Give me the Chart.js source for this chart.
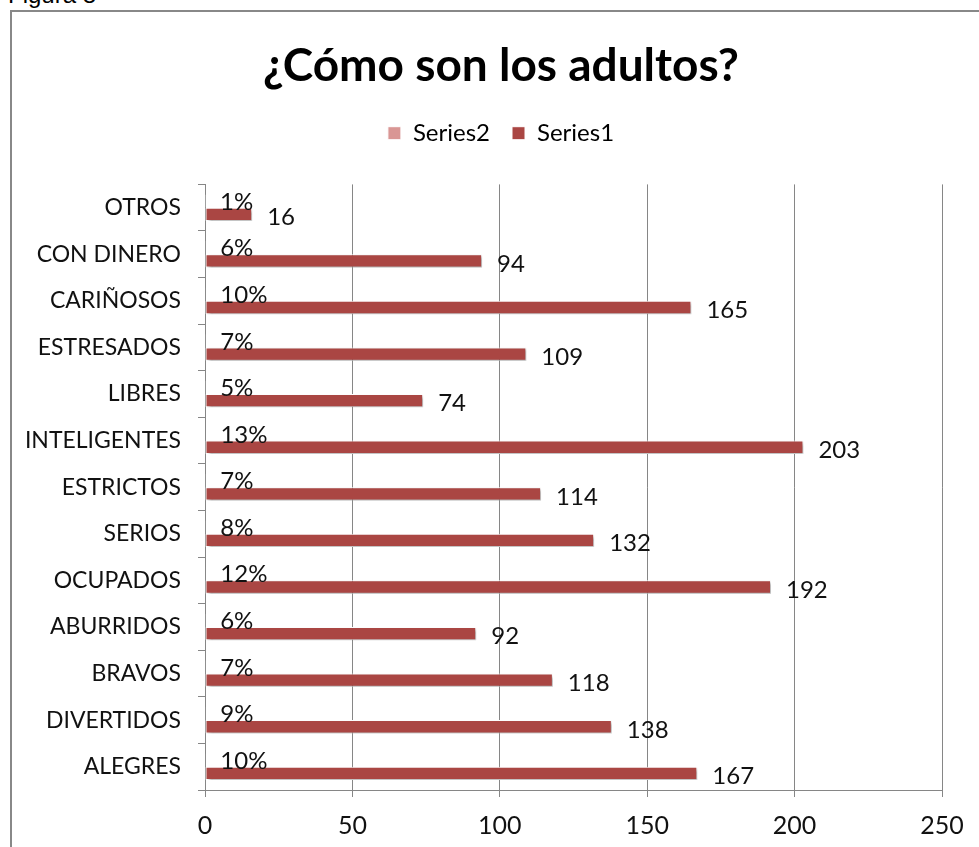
<!DOCTYPE html>
<html>
<head>
<meta charset="utf-8">
<script src="https://cdn.jsdelivr.net/npm/chart.js@4/dist/chart.umd.min.js"></script>
<style>
  html, body { margin: 0; padding: 0; background: #fff; overflow: hidden; }
  #fig { position: absolute; left: 8px; top: -17px; font-family: "Liberation Sans", Arial, sans-serif; font-size: 24px; color: #000; line-height: 24px; }
  #frame { position: absolute; left: 10px; top: 10px; width: 1000px; height: 900px; border: 2px solid #888; box-sizing: border-box; }
  #wrap { position: absolute; left: 0; top: 0; width: 979px; height: 847px; }
</style>
</head>
<body>
<div id="fig">Figura 8</div>
<div id="frame"></div>
<div id="wrap"><canvas id="c"></canvas></div>
<script>
const categories = ["OTROS", "CON DINERO", "CARIÑOSOS", "ESTRESADOS", "LIBRES", "INTELIGENTES", "ESTRICTOS", "SERIOS", "OCUPADOS", "ABURRIDOS", "BRAVOS", "DIVERTIDOS", "ALEGRES"];
const series1 = [16, 94, 165, 109, 74, 203, 114, 132, 192, 92, 118, 138, 167];
const series2 = [0.01, 0.06, 0.10, 0.07, 0.05, 0.13, 0.07, 0.08, 0.12, 0.06, 0.07, 0.09, 0.10];
const xTicks = [0, 50, 100, 150, 200, 250];

const FONT = "Lato, 'Open Sans', sans-serif";

const shadowPlugin = {
  id: 'shadow',
  beforeDatasetsDraw(chart) {
    const ctx = chart.ctx;
    ctx.save();
    ctx.shadowColor = 'rgba(0,0,0,0.35)';
    ctx.shadowBlur = 3;
    ctx.shadowOffsetX = 2;
    ctx.shadowOffsetY = 2;
  },
  afterDatasetsDraw(chart) {
    chart.ctx.restore();
  }
};

// centre title and legend over the outer frame rather than the plot
const shiftPlugin = {
  id: 'shiftHeader',
  afterLayout(chart) {
    if (chart.titleBlock) chart.titleBlock.left += 60;
    if (chart.legend) chart.legend.left += 60;
  }
};

const labelPlugin = {
  id: 'barLabels',
  afterDatasetsDraw(chart) {
    const ctx = chart.ctx;
    ctx.save();
    ctx.font = "24px " + FONT;
    ctx.fillStyle = '#111';
    ctx.textBaseline = 'middle';
    ctx.textAlign = 'left';
    chart.data.datasets.forEach((ds, di) => {
      const meta = chart.getDatasetMeta(di);
      meta.data.forEach((bar, i) => {
        const v = ds.data[i];
        const txt = di === 0 ? Math.round(v * 100) + '%' : String(v);
        const dy = di === 0 ? 1 : 3;
        ctx.fillText(txt, bar.x + 15, bar.y + dy);
      });
    });
    ctx.restore();
  }
};

new Chart(document.getElementById('c'), {
  type: 'bar',
  data: {
    labels: categories,
    datasets: [
      { label: 'Series2', data: series2, backgroundColor: '#D99694', borderColor: '#ffffff', borderWidth: 1, borderSkipped: false },
      { label: 'Series1', data: series1, backgroundColor: '#AA4643', borderColor: '#ffffff', borderWidth: 1, borderSkipped: false }
    ]
  },
  options: {
    indexAxis: 'y',
    responsive: true,
    maintainAspectRatio: false,
    animation: false,
    categoryPercentage: 2 / 3.5,
    barPercentage: 1,
    layout: { padding: { top: 12, right: 37, bottom: 0, left: 0 } },
    plugins: {
      title: {
        display: true,
        text: '¿Cómo son los adultos?',
        color: '#000',
        font: { family: FONT, size: 46, weight: 'bold' },
        padding: { top: 27, bottom: 5 }
      },
      subtitle: {
        display: true,
        text: '',
        weight: 500,
        font: { size: 1 },
        padding: { top: 28, bottom: 0 }
      },
      legend: {
        display: true,
        position: 'top',
        labels: {
          color: '#000',
          font: { family: FONT, size: 24 },
          boxWidth: 13,
          boxHeight: 13,
          padding: 22
        }
      },
      tooltip: { enabled: false }
    },
    scales: {
      x: {
        min: 0,
        max: 250,
        afterBuildTicks(scale) { scale.ticks = xTicks.map(v => ({ value: v })); },
        afterFit(scale) { scale.height = 57; },
        grid: { color: '#868686', lineWidth: 1, drawTicks: true, tickLength: 7, tickColor: '#868686' },
        border: { color: '#868686', width: 1 },
        ticks: { color: '#111', font: { family: FONT, size: 25 }, padding: 14 }
      },
      y: {
        afterFit(scale) { scale.width = 205; },
        grid: { offset: true, drawOnChartArea: false, drawTicks: true, tickLength: 7, tickColor: '#868686' },
        border: { color: '#868686', width: 1 },
        ticks: { color: '#111', font: { family: FONT, size: 23 }, padding: 17 }
      }
    }
  },
  plugins: [shadowPlugin, shiftPlugin, labelPlugin]
});
</script>
</body>
</html>
